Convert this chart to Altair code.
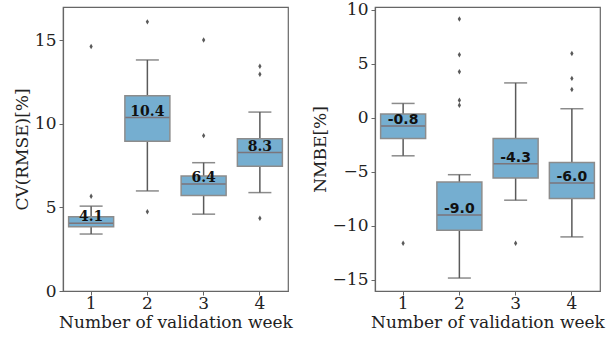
import altair as alt
import pandas as pd

weeks = ["1", "2", "3", "4"]

cv_low = [3.41, 5.99, 4.60, 5.89]
cv_q1 = [3.85, 8.97, 5.71, 7.46]
cv_med = [4.05, 10.38, 6.41, 8.29]
cv_q3 = [4.45, 11.69, 6.89, 9.11]
cv_high = [5.08, 13.83, 7.68, 10.71]
cv_label = ["4.1", "10.4", "6.4", "8.3"]
cv_out = [[5.67, 14.64], [4.74, 16.11], [9.30, 15.02], [4.35, 12.98, 13.45]]

nm_low = [-3.53, -14.85, -7.64, -11.04]
nm_q1 = [-1.93, -10.43, -5.58, -7.49]
nm_med = [-0.77, -9.02, -4.27, -6.04]
nm_q3 = [0.33, -5.95, -1.93, -4.14]
nm_high = [1.32, -5.28, 3.22, 0.83]
nm_label = ["-0.8", "-9.0", "-4.3", "-6.0"]
nm_out = [[-11.63], [9.14, 5.82, 4.26, 1.62, 1.16], [-11.63], [5.94, 3.64, 2.60]]

FILL = "#75aed0"
EDGE = "#8c8c8c"
WHISK = "#5a5a5a"
MED = "#7d5d57"
FONT = "DejaVu Serif"


def panel(low, q1, med, q3, high, labels, outs, ytitle, domain, ticks, label_font):
    stats = pd.DataFrame({"week": weeks, "low": low, "q1": q1, "med": med,
                          "q3": q3, "high": high, "label": labels})
    outl = pd.DataFrame([{"week": w, "v": v} for w, vs in zip(weeks, outs) for v in vs])
    xenc = alt.X("week:N", sort=weeks,
                 scale=alt.Scale(paddingInner=0, paddingOuter=0),
                 axis=alt.Axis(title="Number of validation week", labelAngle=0,
                               labelFont=FONT, titleFont=FONT, labelPadding=0,
                               titlePadding=3))
    yscale = alt.Scale(domain=domain, nice=False, zero=False)
    yaxis = alt.Axis(title=ytitle, values=ticks, grid=False, labelFont=FONT, titleFont=FONT,
                     labelPadding=3, titlePadding=3)
    base = alt.Chart(stats).encode(x=xenc)
    whisk = base.mark_rule(color=WHISK, strokeWidth=1.5).encode(
        y=alt.Y("low:Q", scale=yscale, axis=yaxis), y2="high:Q")
    box = base.mark_bar(width=alt.RelativeBandSize(0.8), fill=FILL, stroke=EDGE,
                        strokeWidth=1.5).encode(y="q1:Q", y2="q3:Q")
    cap_lo = base.mark_tick(size=23, thickness=1.5, color=WHISK, orient="horizontal").encode(y="low:Q")
    cap_hi = base.mark_tick(size=23, thickness=1.5, color=WHISK, orient="horizontal").encode(y="high:Q")
    medl = base.mark_tick(size=44, thickness=1.5, color=MED, orient="horizontal").encode(y="med:Q")
    txt = base.mark_text(fontWeight="bold", fontSize=14, font=label_font, color="#111",
                         baseline="alphabetic", dy=-2).encode(y="med:Q", text="label:N")
    pts = alt.Chart(outl).mark_point(shape="M0,-1L0.6,0L0,1L-0.6,0Z", size=30, filled=True,
                                     color=WHISK, opacity=1).encode(
        x=alt.X("week:N", sort=weeks), y="v:Q")
    return alt.layer(whisk, box, cap_lo, cap_hi, medl, txt, pts).properties(width=225, height=284)


left = panel(cv_low, cv_q1, cv_med, cv_q3, cv_high, cv_label, cv_out,
             "CV(RMSE)[%]", [0, 17.0], [0, 5, 10, 15], "DejaVu Serif")
right = panel(nm_low, nm_q1, nm_med, nm_q3, nm_high, nm_label, nm_out,
              "NMBE[%]", [-16.05, 10.25], [-15, -10, -5, 0, 5, 10], "DejaVu Sans")

chart = alt.hconcat(left, right, spacing=16).properties(
    padding={"left": 12, "top": 0, "right": 5, "bottom": 0}
).configure_view(stroke="#666666", strokeWidth=1.2).configure_axis(
    labelFont=FONT, titleFont=FONT, labelFontSize=17, titleFontSize=17,
    labelColor="#222", titleColor="#222", titleFontWeight="normal",
    domainColor="#666666", tickColor="#666666", tickSize=4,
    domainWidth=1.2
).configure_concat(spacing=16)

chart.save("out.html", embed_options={"renderer": "svg", "actions": False})
